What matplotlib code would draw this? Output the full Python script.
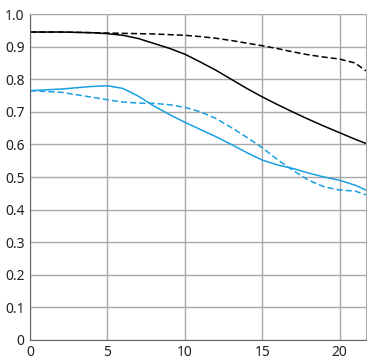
import numpy as np
import matplotlib.pyplot as plt

plt.rcParams['font.family'] = ['Noto Sans', 'DejaVu Sans']

# image height (mm) vs MTF
x = [0, 2, 4, 5, 6, 7, 8, 9, 10, 11, 12, 13, 14, 15, 16, 17, 18, 19, 20, 21, 21.7]

black_solid = [0.945, 0.945, 0.943, 0.940, 0.935, 0.925, 0.910, 0.895, 0.877, 0.853, 0.828,
               0.800, 0.772, 0.746, 0.722, 0.699, 0.677, 0.656, 0.636, 0.616, 0.603]
black_dash = [0.945, 0.945, 0.943, 0.942, 0.941, 0.940, 0.939, 0.937, 0.935, 0.931, 0.926,
              0.919, 0.911, 0.903, 0.894, 0.884, 0.875, 0.868, 0.862, 0.850, 0.826]
blue_solid = [0.765, 0.770, 0.778, 0.780, 0.772, 0.748, 0.718, 0.692, 0.668, 0.646, 0.624,
              0.600, 0.575, 0.552, 0.537, 0.526, 0.512, 0.500, 0.490, 0.475, 0.460]
blue_dash = [0.765, 0.760, 0.745, 0.737, 0.730, 0.727, 0.726, 0.722, 0.714, 0.700, 0.680,
             0.652, 0.622, 0.590, 0.553, 0.520, 0.490, 0.470, 0.460, 0.457, 0.445]

blue = '#1a9fe3'

fig = plt.figure(figsize=(3.67, 3.62), dpi=100)
ax = fig.add_axes([0.082, 0.061, 0.915, 0.900])

ax.plot(x, black_dash, color='black', lw=1.1, ls=(0, (4, 2)))
ax.plot(x, black_solid, color='black', lw=1.1)
ax.plot(x, blue_dash, color=blue, lw=1.1, ls=(0, (4, 2)))
ax.plot(x, blue_solid, color=blue, lw=1.1)

ax.set_xlim(0, 21.7)
ax.set_ylim(0, 1.0)
ax.set_xticks([0, 5, 10, 15, 20])
ax.set_yticks(np.arange(0, 1.01, 0.1))
ax.set_yticklabels(['0', '0.1', '0.2', '0.3', '0.4', '0.5', '0.6', '0.7', '0.8', '0.9', '1.0'])
ax.tick_params(length=0, labelsize=10, colors='#222222', pad=4)
ax.grid(True, color='#a8a8a8', lw=1)
ax.set_axisbelow(True)
for s in ['top', 'right']:
    ax.spines[s].set_color('#a8a8a8')
for s in ['left', 'bottom']:
    ax.spines[s].set_color('#666666')

fig.savefig('out.png', dpi=100)
